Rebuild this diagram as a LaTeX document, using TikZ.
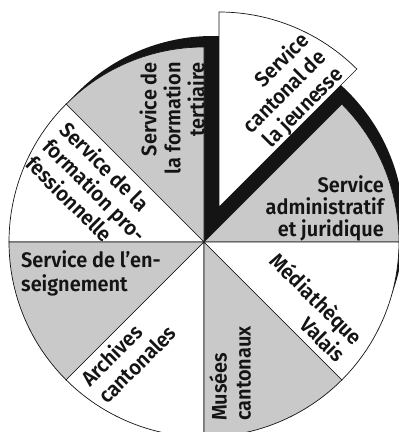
\documentclass[tikz,border=0pt]{standalone}
\usepackage{fontspec}
\setmainfont{Fira Sans SemiBold}[FakeStretch=0.95]
\definecolor{pie}{gray}{0.79}
\definecolor{ink}{gray}{0.08}
\begin{document}
\begin{tikzpicture}[x=1pt,y=1pt,
  lab/.style={font=\fontsize{21}{24}\selectfont, inner sep=0pt, text=ink},
  sec/.style={draw=ink, line width=0.7pt}]
\useasboundingbox (0,0) rectangle (399,432);
\fill[white] (0,0) rectangle (399,432);
\coordinate (C) at (204,190);
\coordinate (S) at (213,205);
\coordinate (J) at (219,225);
\def\R{195}
% shadow
\fill[ink] (S) circle (191);
\fill[ink] (C) -- ++(45:\R) arc[start angle=45,end angle=90,radius=\R] -- cycle;
% sectors
\foreach \a/\b/\c in {0/45/pie, 90/135/pie, 135/180/white, 180/225/pie, 225/270/white, 270/315/pie, 315/360/white}
  \filldraw[sec, fill=\c] (C) -- ++(\a:\R) arc[start angle=\a, end angle=\b, radius=\R] -- cycle;
% exploded sector
\filldraw[sec, fill=white] (J) -- ++(45:\R) arc[start angle=45, end angle=90, radius=\R] -- cycle;
% labels
\node[lab, rotate=90, anchor=east, align=right] (tert) at (172,370) {Service de\\la formation\\tertiaire};
\node[lab, rotate=45, anchor=east, align=right] (jeun) at (323,377.6) {Service\\cantonal de\\la jeunesse};
\node[lab, anchor=east, align=right, font=\fontsize{21}{22}\selectfont] (adm) at (384,223.7) {Service\\administratif\hspace*{-8pt}\\et juridique};
\node[lab, rotate=-45, anchor=east, align=right] (media) at (351,82.7) {Médiathèque\\Valais};
\node[lab, rotate=90, anchor=west, align=left] (musees) at (230,11) {Musées\\cantonaux};
\node[lab, rotate=45, anchor=west, align=left] (arch) at (93,41.3) {Archives\\cantonales};
\node[lab, anchor=west, align=left] (ens) at (21,159) {Service de l'en-\\seignement};
\node[lab, rotate=-45, anchor=west, align=left] (prof) at (47.4,289.9) {Service de la\\formation pro-\\fessionnelle};
\end{tikzpicture}
\end{document}
